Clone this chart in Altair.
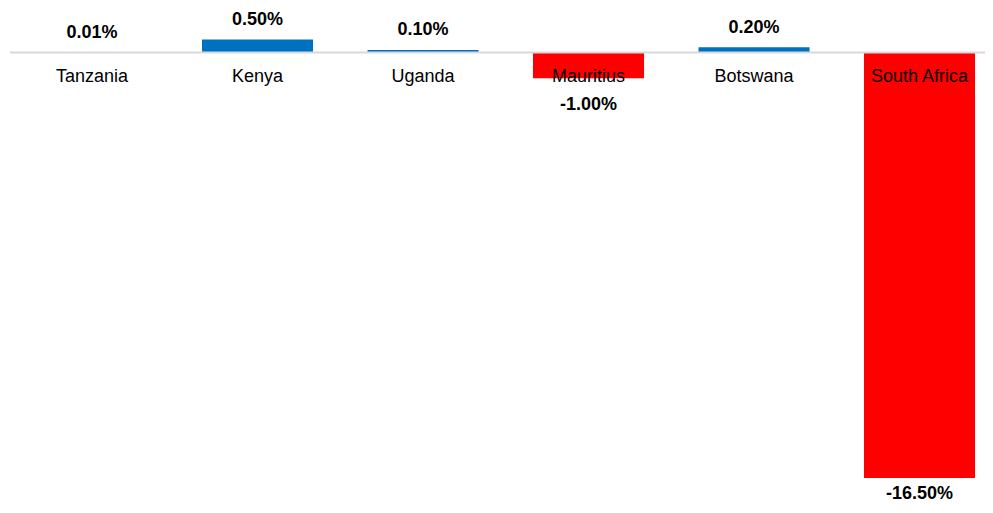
import altair as alt
import pandas as pd

countries = ["Tanzania", "Kenya", "Uganda", "Mauritius", "Botswana", "South Africa"]
values = [0.01, 0.50, 0.10, -1.00, 0.20, -16.50]

df = pd.DataFrame({"country": countries, "value": values})

FONT = "Liberation Sans, Arial, Helvetica, sans-serif"

x = alt.X("country:N", sort=countries,
          scale=alt.Scale(paddingInner=0.329, paddingOuter=0.1132, align=0.734),
          axis=None)
y_scale = alt.Scale(domain=[-17.507, 1.7255], nice=False, zero=False)

base = alt.Chart(df).transform_calculate(
    label="(datum.value < 0 ? '-' : '') + format(abs(datum.value), '.2f') + '%'",
    z="0",
)

bars = base.mark_bar().encode(
    x=x,
    y=alt.Y("value:Q", scale=y_scale, axis=None),
    y2=alt.datum(0),
    color=alt.condition(alt.datum.value > 0, alt.value("#0070C0"), alt.value("#FF0000")),
)

zero_line = base.transform_filter(alt.datum.country == "Tanzania").mark_rule(
    color="#D9D9D9", strokeWidth=2
).encode(
    x=alt.value(1), x2=alt.value(976), y=alt.Y("z:Q", scale=y_scale)
)

cat_labels = base.mark_text(font=FONT, fontSize=18, color="#000000", baseline="alphabetic", dy=29).encode(
    x=x,
    y=alt.Y("z:Q", scale=y_scale),
    text="country:N",
)

pos_labels = base.transform_filter(alt.datum.value >= 0).mark_text(
    font=FONT, fontSize=18, fontWeight="bold", color="#000000", baseline="alphabetic", dy=-14.5
).encode(x=x, y=alt.Y("value:Q", scale=y_scale), text="label:N")

neg_labels = base.transform_filter((alt.datum.value < 0) & (alt.datum.value > -5)).mark_text(
    font=FONT, fontSize=18, fontWeight="bold", color="#000000", baseline="alphabetic", dy=31.5
).encode(x=x, y=alt.Y("value:Q", scale=y_scale), text="label:N")

big_neg_labels = base.transform_filter(alt.datum.value <= -5).mark_text(
    font=FONT, fontSize=18, fontWeight="bold", color="#000000", baseline="alphabetic", dy=21
).encode(x=x, y=alt.Y("value:Q", scale=y_scale), text="label:N")

chart = alt.layer(bars, zero_line, cat_labels, pos_labels, neg_labels, big_neg_labels).properties(
    width=976, height=496,
    padding={"left": 1, "top": 0, "right": 0, "bottom": 0},
    autosize=alt.AutoSizeParams(type="none"),
).configure_view(stroke=None)

chart.save("out.html", embed_options={"renderer": "svg", "actions": False})
